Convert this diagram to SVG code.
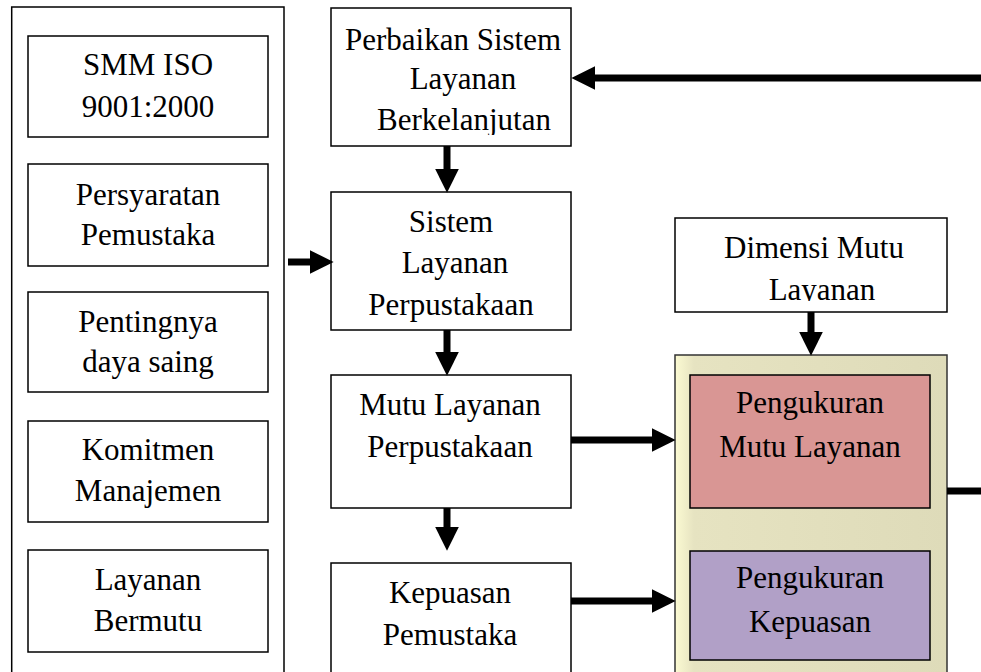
<svg xmlns="http://www.w3.org/2000/svg" width="981" height="672" viewBox="0 0 981 672">
<style>
.box{fill:#fff;stroke:#000;stroke-width:1.5}
.t{font-family:"Liberation Serif","Times New Roman",serif;font-size:31px;fill:#000;text-anchor:middle}
.con{stroke:#000;stroke-width:7;fill:none}
</style>
<defs>
<marker id="ah" markerUnits="userSpaceOnUse" markerWidth="24" markerHeight="24" viewBox="0 0 23 23" refX="8" refY="11.5" orient="auto">
<path d="M0,0 L23,11.5 L0,23 z" fill="#000"/>
</marker>
<linearGradient id="yg" x1="0" y1="0" x2="1" y2="0">
<stop offset="0" stop-color="#FBFAD2"/>
<stop offset="0.07" stop-color="#E6E3C1"/>
<stop offset="1" stop-color="#DEDBB9"/>
</linearGradient>
<clipPath id="c1"><rect x="331" y="8" width="240" height="127"/></clipPath>
<clipPath id="c2"><rect x="331" y="192" width="240" height="136"/></clipPath>
<clipPath id="c3"><rect x="675" y="218" width="272" height="83"/></clipPath>
</defs>
<rect width="981" height="672" fill="#fff"/>

<g id="left-group">
<rect class="box" x="11.7" y="7" width="272.3" height="680"/>
</g>
<g id="smm-iso">
<rect class="box" x="28" y="36" width="240" height="101"/>
<text class="t" x="148" y="75">SMM ISO</text>
<text class="t" x="148" y="117">9001:2000</text>
</g>
<g id="persyaratan">
<rect class="box" x="28" y="164" width="240" height="102"/>
<text class="t" x="148" y="205">Persyaratan</text>
<text class="t" x="148" y="245">Pemustaka</text>
</g>
<g id="pentingnya">
<rect class="box" x="28" y="292" width="240" height="100"/>
<text class="t" x="148" y="332">Pentingnya</text>
<text class="t" x="148" y="372">daya saing</text>
</g>
<g id="komitmen">
<rect class="box" x="28" y="421" width="240" height="101"/>
<text class="t" x="148" y="460">Komitmen</text>
<text class="t" x="148" y="501">Manajemen</text>
</g>
<g id="layanan-bermutu">
<rect class="box" x="28" y="550" width="240" height="102"/>
<text class="t" x="148" y="590">Layanan</text>
<text class="t" x="148" y="631">Bermutu</text>
</g>

<g id="perbaikan">
<rect class="box" x="331" y="8" width="240" height="138"/>
<g clip-path="url(#c1)">
<text class="t" x="453" y="50">Perbaikan Sistem</text>
<text class="t" x="463" y="89">Layanan</text>
<text class="t" x="464" y="130">Berkelanjutan</text>
</g>
</g>
<g id="sistem">
<rect class="box" x="331" y="192" width="240" height="138"/>
<g clip-path="url(#c2)">
<text class="t" x="451" y="232">Sistem</text>
<text class="t" x="455" y="273">Layanan</text>
<text class="t" x="451" y="315">Perpustakaan</text>
</g>
</g>
<g id="mutu">
<rect class="box" x="331" y="375" width="240" height="133"/>
<text class="t" x="450" y="415">Mutu Layanan</text>
<text class="t" x="450" y="457">Perpustakaan</text>
</g>
<g id="kepuasan">
<rect class="box" x="331" y="563" width="240" height="130"/>
<text class="t" x="450" y="603">Kepuasan</text>
<text class="t" x="450" y="645">Pemustaka</text>
</g>

<g id="dimensi">
<rect class="box" x="675" y="218" width="272" height="94"/>
<g clip-path="url(#c3)">
<text class="t" x="814" y="258">Dimensi Mutu</text>
<text class="t" x="822" y="300">Layanan</text>
</g>
</g>
<g id="pengukuran-group">
<rect x="675" y="355" width="272" height="340" fill="url(#yg)" stroke="#333" stroke-width="1.5"/>
</g>
<g id="pengukuran-mutu">
<rect x="690" y="375" width="240" height="133" fill="#D99694" stroke="#000" stroke-width="1.5"/>
<text class="t" x="810" y="413">Pengukuran</text>
<text class="t" x="810" y="457">Mutu Layanan</text>
</g>
<g id="pengukuran-kepuasan">
<rect x="690" y="551" width="240" height="109" fill="#B1A0C7" stroke="#000" stroke-width="1.5"/>
<text class="t" x="810" y="588">Pengukuran</text>
<text class="t" x="810" y="632">Kepuasan</text>
</g>

<g id="connectors">
<line class="con" x1="981" y1="78" x2="587" y2="78" marker-end="url(#ah)"/>
<line class="con" x1="447" y1="146" x2="447" y2="177" marker-end="url(#ah)"/>
<line class="con" x1="288" y1="262" x2="318" y2="262" marker-end="url(#ah)"/>
<line class="con" x1="447" y1="330" x2="447" y2="360" marker-end="url(#ah)"/>
<line class="con" x1="447" y1="508" x2="447" y2="535" marker-end="url(#ah)"/>
<line class="con" x1="571" y1="440" x2="660" y2="440" marker-end="url(#ah)"/>
<line class="con" x1="571" y1="601" x2="660" y2="601" marker-end="url(#ah)"/>
<line class="con" x1="811" y1="312" x2="811" y2="340" marker-end="url(#ah)"/>
<line class="con" x1="947" y1="491" x2="981" y2="491"/>
</g>
</svg>
